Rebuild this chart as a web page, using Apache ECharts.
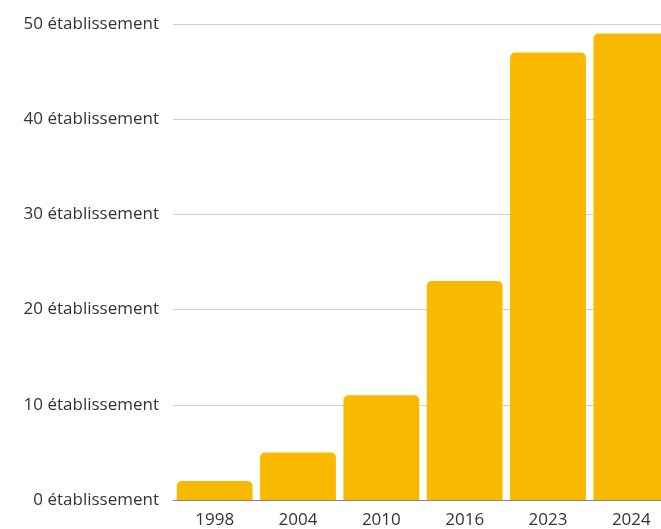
<!DOCTYPE html>
<html>
<head>
<meta charset="utf-8">
<script src="https://cdn.jsdelivr.net/npm/echarts@6/dist/echarts.min.js"></script>
<style>
html,body{margin:0;padding:0;background:#fff;}
#chart{width:661px;height:529px;}
</style>
</head>
<body>
<div id="chart"></div>
<script>
const categories = ['1998', '2004', '2010', '2016', '2023', '2024'];
const values = [2, 5, 11, 23, 47, 49];
const yUnit = 'établissement';

const chart = echarts.init(document.getElementById('chart'), null, {renderer: 'canvas'});
chart.setOption({
  animation: false,
  grid: {left: 173, right: -12, top: 24, bottom: 29, containLabel: false, outerBoundsMode: 'none'},
  xAxis: {
    type: 'category',
    data: categories,
    axisLine: {lineStyle: {color: '#888', width: 1}},
    axisTick: {show: false},
    axisLabel: {color: '#333', fontSize: 17, fontFamily: 'Open Sans', margin: 12}
  },
  yAxis: {
    type: 'value',
    min: 0, max: 50, interval: 10,
    axisLine: {show: false},
    axisTick: {show: false},
    splitLine: {lineStyle: {color: '#d0d0d0', width: 1}},
    axisLabel: {color: '#333', fontSize: 17, fontFamily: 'Open Sans', margin: 14,
      formatter: v => v + ' ' + yUnit}
  },
  series: [{
    type: 'bar',
    data: values,
    barCategoryGap: '9%',
    itemStyle: {color: '#F9B901', borderRadius: [5, 5, 0, 0]}
  }]
});
</script>
</body>
</html>
